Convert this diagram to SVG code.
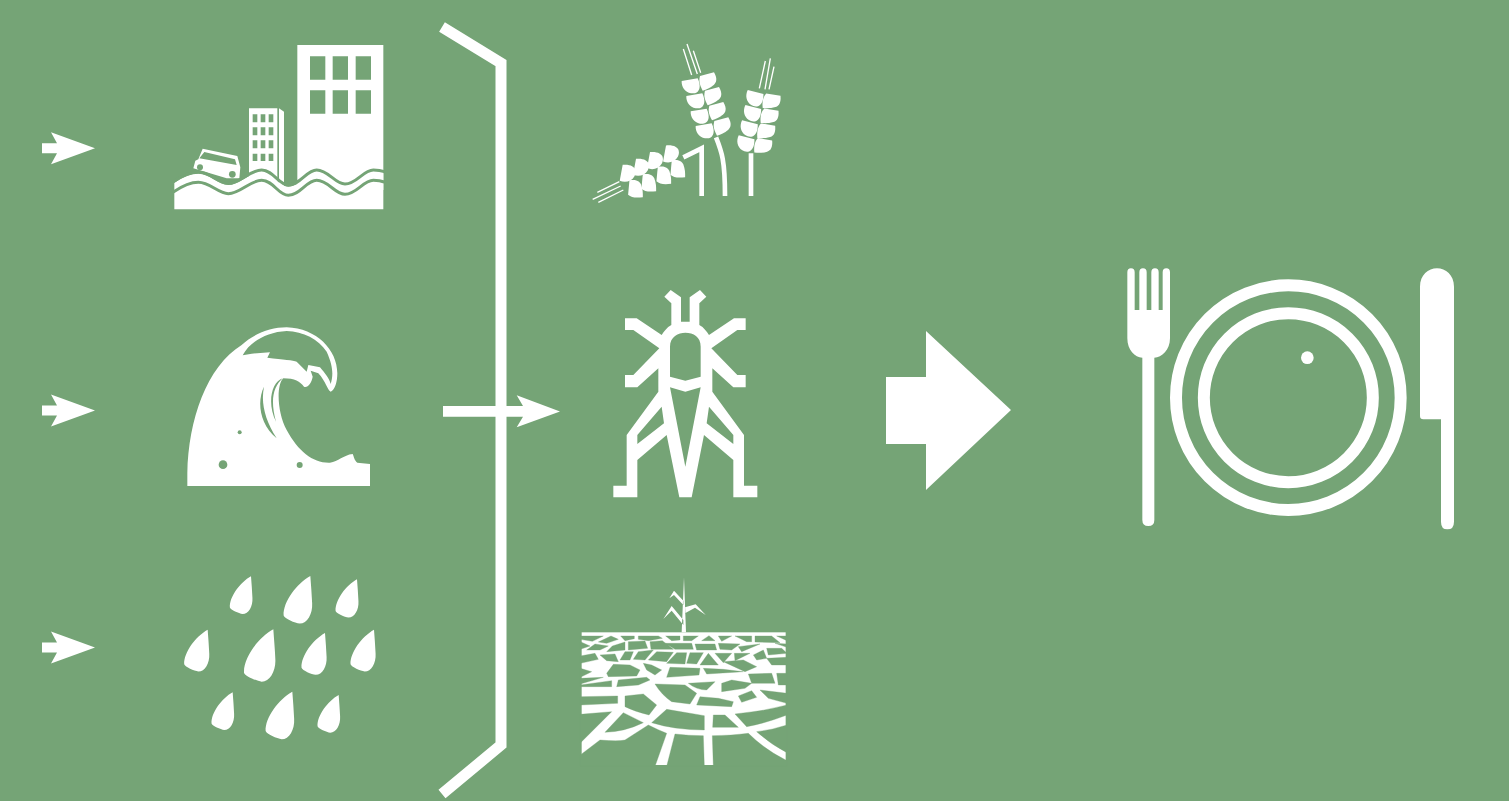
<svg xmlns="http://www.w3.org/2000/svg" xmlns:xlink="http://www.w3.org/1999/xlink" width="1509" height="801" viewBox="0 0 1509 801">
<style>
.w{fill:#fff}
.g{fill:#75a476}
.gl{fill:none;stroke:#75a476;stroke-linecap:butt}
.wl{fill:none;stroke:#fff;stroke-linecap:butt;stroke-linejoin:miter}
.cell{fill:#75a476;stroke:#75a476;stroke-width:1;stroke-linejoin:round}
</style>
<defs>
<path id="arrow" class="w" d="M42,-5 H57 L51,-16 L95,0 L51,16 L57,5 H42Z"/>
<path id="drop" class="w" d="M0,0 C-45,25 -90,85 -88,130 C-85,140 -50,155 -35,157 C-10,157 8,125 6,90 C5,60 2,30 0,0Z"/>
<path id="kL" class="w" d="M-28,-12 L20,-20 C30,2 26,14 20,20 C12,26 6,25 0,25 C-18,22 -29,6 -28,-12Z"/>
<path id="kR" class="w" d="M-22,-14 L20,-25 C32,-4 26,6 20,12 C8,22 -2,26 -14,30 C-26,8 -25,-2 -22,-14Z"/>
</defs>
<rect width="1509" height="801" class="g"/>

<g id="connectors">
<use href="#arrow" y="148.3"/>
<use href="#arrow" y="410.5"/>
<use href="#arrow" y="647.5"/>
<path class="wl" stroke-width="11" d="M442,27 L501,63 V745 L442,794"/>
<path class="w" d="M443,406 H523 L516.7,395.3 L560,411.5 L516.7,427.3 L523,416.7 H443Z"/>
<path class="w" d="M886,377 H926 V331 L1011,410 L926,490 V444 H886Z"/>
</g>

<g id="flood" transform="translate(160,30) scale(.33333)">
<path class="w" fill-rule="evenodd" d="M412,45 H670 V480 H412Z M450,79 V149 H496 V79Z M518,79 V149 H564 V79Z M587,79 V149 H633 V79Z M450,181 V251 H496 V181Z M518,181 V251 H564 V181Z M587,181 V251 H633 V181Z"/>
<path class="w" fill-rule="evenodd" d="M267,235 H352 V480 H267Z M278,253 V277 H292 V253Z M302,253 V277 H316 V253Z M326,253 V277 H340 V253Z M278,292 V316 H292 V292Z M302,292 V316 H316 V292Z M326,292 V316 H340 V292Z M278,331 V355 H292 V331Z M302,331 V355 H316 V331Z M326,331 V355 H340 V331Z M278,371 V393 H292 V371Z M302,371 V393 H316 V371Z M326,371 V393 H340 V371Z"/>
<path class="w" d="M357,235 L372,245 V480 H357Z"/>
<path class="w" fill-rule="evenodd" d="M128,356 L232,378 L241,412 L238,445 L200,445 L100,415 L106,392 L115,388Z M133,366 L118,385 L230,405 L225,388Z"/>
<circle class="g" cx="120" cy="412" r="9"/>
<circle class="g" cx="217" cy="433" r="10"/>
<path class="w" d="M43,458 C70,440 95,431 115,431 C150,431 175,465 205,465 C240,465 270,425 305,425 C340,425 355,470 385,470 C420,470 440,425 470,425 C505,425 525,467 555,467 C590,467 610,425 640,425 Q660,425 670,430 V538 H43Z"/>
<path class="gl" stroke-width="9" d="M40,455 C70,435 95,426 115,426 C150,426 175,460 205,460 C240,460 270,420 305,420 C340,420 355,465 385,465 C420,465 440,420 470,420 C505,420 525,462 555,462 C590,462 610,420 640,420 Q660,420 673,425"/>
<path class="gl" stroke-width="9" d="M40,486 C70,466 95,457 115,457 C150,457 175,491 205,491 C240,491 270,451 305,451 C340,451 355,496 385,496 C420,496 440,451 470,451 C505,451 525,493 555,493 C590,493 610,451 640,451 Q660,451 673,456"/>
</g>

<g id="tsunami" transform="translate(170,310) scale(.33333)">
<path class="w" fill-rule="evenodd" d="M52,528 V490 C55,330 110,170 215,105 C250,72 300,52 350,52 C440,55 502,120 502,190 C502,215 495,240 482,245 C472,240 468,215 445,190 L422,182 L428,200 C425,220 412,235 402,230 C390,215 375,205 340,205 C318,225 322,310 350,360 C385,425 430,460 480,458 C505,455 520,435 548,432 C552,440 552,450 562,458 L600,462 V528Z
M218,136 L245,131 L300,127 L292,143 C340,150 370,150 380,155 L410,185 L415,165 L450,172 C465,190 478,205 482,222 C490,195 490,170 470,125 C445,88 400,64 350,63 C290,66 240,95 218,136Z
M282,230 C262,270 265,340 320,385 C285,330 272,280 282,230Z
M338,205 C305,215 290,280 318,335 C300,270 310,230 338,205Z"/>
<circle class="g" cx="159" cy="464" r="13"/>
<circle class="g" cx="389" cy="465" r="9"/>
<circle class="g" cx="209" cy="367" r="6"/>
</g>

<g id="rain" transform="translate(170,565) scale(.33333)">
<use href="#drop" transform="translate(243,34) scale(.72)"/>
<use href="#drop" transform="translate(421,33) scale(.91)"/>
<use href="#drop" transform="translate(561,43) scale(.73)"/>
<use href="#drop" transform="translate(113,194) scale(.8)"/>
<use href="#drop" transform="translate(310,193)"/>
<use href="#drop" transform="translate(465,204) scale(.8)"/>
<use href="#drop" transform="translate(612,194) scale(.8)"/>
<use href="#drop" transform="translate(188,382) scale(.72)"/>
<use href="#drop" transform="translate(367,380) scale(.91)"/>
<use href="#drop" transform="translate(506,390) scale(.72)"/>
</g>

<g id="wheat" transform="translate(580,30) scale(.33333)">
<path class="wl" stroke-width="4" d="M310,57 L335,135 M321,42 L352,132 M340,62 L362,128 M538,175 L556,93 M555,178 L571,85 M567,178 L582,110 M52,487 L118,455 M38,508 L122,468 M55,517 L130,480"/>
<path class="wl" stroke-width="14" d="M310,382 L365,355 V498 M408,322 C425,365 435,390 435,498 M513,370 V498"/>
<use href="#kL" transform="translate(333,165)"/>
<use href="#kL" transform="translate(347,210)"/>
<use href="#kL" transform="translate(360,256)"/>
<use href="#kL" transform="translate(375,300)"/>
<use href="#kR" transform="translate(382,152)"/>
<use href="#kR" transform="translate(397,196)"/>
<use href="#kR" transform="translate(410,241)"/>
<use href="#kR" transform="translate(425,287)"/>
<use href="#kL" transform="translate(524,202) rotate(24)"/>
<use href="#kL" transform="translate(517,247) rotate(24)"/>
<use href="#kL" transform="translate(507,293) rotate(24)"/>
<use href="#kL" transform="translate(497,338) rotate(24)"/>
<use href="#kR" transform="translate(573,212) rotate(24)"/>
<use href="#kR" transform="translate(567,257) rotate(24)"/>
<use href="#kR" transform="translate(557,302) rotate(24)"/>
<use href="#kR" transform="translate(548,346) rotate(24)"/>
<use href="#kL" transform="translate(140,430) rotate(-70)"/>
<use href="#kL" transform="translate(180,412) rotate(-70)"/>
<use href="#kL" transform="translate(222,392) rotate(-70)"/>
<use href="#kL" transform="translate(270,372) rotate(-70)"/>
<use href="#kR" transform="translate(165,478) rotate(-70)"/>
<use href="#kR" transform="translate(205,460) rotate(-70)"/>
<use href="#kR" transform="translate(250,438) rotate(-70)"/>
<use href="#kR" transform="translate(292,418) rotate(-70)"/>
</g>

<g id="locust" transform="translate(600,280) scale(.33333)">
<path class="w" fill-rule="evenodd" d="M243,125 V52 L212,30 L193,50 L214,70 V135 C200,142 192,155 185,165 L110,115 H75 V150 H100 L178,205 L100,285 H75 V322 H112 L175,265 V335 L80,465 V617 H40 V652 H112 V540 L200,465 L238,652 H275 L312,465 L400,540 V652 H472 V617 H432 V465 L337,335 V265 L400,322 H437 V285 H412 L334,205 L412,150 H437 V115 H402 L327,165 C320,155 312,142 298,135 V70 L319,50 L300,30 L269,52 V125Z
M210,200 C210,170 235,158 256,158 C280,158 302,170 302,200 V290 L256,302 L210,290Z
M210,322 L256,335 L302,322 L256,560Z
M185,380 L192,430 L112,492 V465Z
M327,380 L320,430 L400,492 V465Z"/>
</g>

<g id="drought" transform="translate(575,570) scale(.33333)">
<path class="w" d="M327,22 L320,187 H333Z M265,147 L290,108 L325,150 V165 L290,122Z M283,85 L297,62 L325,92 V105 L297,75Z M330,112 L362,103 L392,135 L360,113 L330,130Z"/>
<rect class="w" x="20" y="187" width="612" height="398"/>
<g class="cell">
<path d="M16,198 H85 L52,214 L16,208Z M108,198 L130,208 L95,220 L70,216Z M137,198 H178 V206 L150,212Z M190,198 H250 L262,205 L220,212 L190,208Z M272,198 H315 V210 L290,212Z M325,198 H370 L350,212 H325Z M380,212 L402,197 L420,212Z M430,198 H470 L440,214Z M480,198 H530 V215 H515Z M540,198 H590 L615,218 L540,216Z M605,198 H636 V212Z"/>
<path d="M16,215 L45,228 L16,238Z M60,222 L100,228 L75,240 L35,240Z M112,228 L150,216 V240 L95,245Z M160,215 L210,213 L218,235 L160,240Z M225,215 L262,212 L295,238 L228,238Z M270,220 H350 L355,238 H300Z M360,222 H420 L425,240 H365Z M430,220 L495,222 L470,240 L435,238Z M490,230 L555,222 L500,245Z M575,235 H620 L636,250 L580,255Z M600,220 L636,222 V232Z"/>
<path d="M16,258 L60,250 L70,268 L16,280Z M75,255 L120,252 L130,275 L95,272Z M150,245 H175 L165,270 H135Z M190,245 L235,240 L210,270 L175,268Z M245,245 L295,247 L275,275 L220,270Z M305,248 H335 L330,282 L275,280Z M345,248 H385 L365,282 L335,280Z M400,250 L430,285 H375Z M420,250 H470 L445,278Z M478,250 H525 L480,272Z M535,255 L565,240 L575,265 L545,270Z M575,265 L636,262 V285 L590,285Z"/>
<path d="M16,295 L50,305 L16,322Z M115,283 L165,285 L195,300 L185,318 L100,320 L95,310Z M205,280 L230,285 L260,300 L240,315 L215,300Z M285,292 L375,295 L372,315 L275,322Z M385,295 L445,298 L505,305 L395,312Z M445,275 L505,270 L545,290 L510,305Z M520,312 L590,310 L600,340 L530,340Z M605,310 H636 V345 H610Z"/>
<path d="M16,325 L85,322 L16,342Z M130,330 L215,322 L225,330 L190,345 L125,350Z M16,345 L110,332 V350 L16,350Z M240,342 L330,345 L365,370 L345,402 L290,395 Q260,375 240,342Z M340,340 L420,335 L395,360 Q365,360 340,340Z M440,340 L470,330 L530,340 L510,355 L440,365Z M375,380 L430,385 L475,395 L470,410 L365,405Z M490,378 L530,362 L545,382 L500,397Z M555,360 L636,370 V400 L580,385Z"/>
<path d="M150,378 L205,372 L245,405 L222,435 Q180,425 150,410Z M16,380 L128,378 V400 L16,405Z M16,433 L110,425 L16,519Z M145,428 L205,458 Q150,485 90,487Z M275,418 L388,437 V480 Q300,480 230,458Z M415,435 H450 L490,472 L413,472Z M480,432 Q560,425 636,405 V435 Q570,460 515,470Z"/>
<path d="M16,555 L75,510 Q130,515 150,510 L220,465 Q250,480 275,490 L240,589 H16Z M300,492 Q340,497 385,497 L388,589 H275Z M412,497 Q470,497 520,490 Q570,540 636,572 V589 H415Z M545,485 Q590,480 636,465 V548 Q590,525 545,485Z"/>
</g>
</g>

<g id="meal" transform="translate(1110,255) scale(.33333)">
<path class="w" d="M52,52 Q52,40 63,40 Q74,40 74,52 V165 H88 V52 Q88,40 99,40 Q110,40 110,52 V165 H124 V52 Q124,40 135,40 Q146,40 146,52 V165 H158 V52 Q158,40 169,40 Q180,40 180,52 V250 C180,285 155,308 133,308 V795 Q133,813 115,813 Q97,813 97,795 V308 C75,308 52,285 52,250Z"/>
<circle class="wl" cx="535" cy="428" r="337" stroke-width="36"/>
<circle class="wl" cx="535" cy="428" r="253.500" stroke-width="36"/>
<circle class="w" cx="592" cy="308" r="19"/>
<path class="w" d="M930,95 C930,60 955,40 981,40 C1007,40 1032,60 1032,95 V800 Q1032,823 1012,823 Q993,823 993,800 V493 H940 Q930,493 930,483Z"/>
</g>
</svg>
